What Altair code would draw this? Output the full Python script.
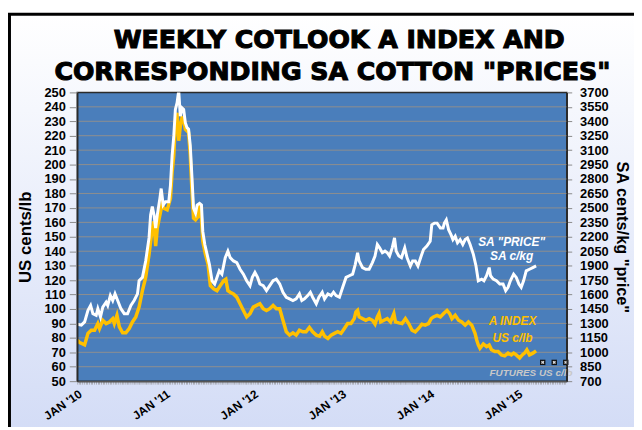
import json
import altair as alt
import pandas as pd

# ---------------- data ----------------
TITLE_LINES = ["WEEKLY COTLOOK A INDEX AND", 'CORRESPONDING SA COTTON "PRICES"']

# time axis: years since JAN 2010
a_index_t = [0.000, 0.028, 0.084, 0.122, 0.159, 0.197, 0.234, 0.253, 0.290, 0.328, 0.365, 0.403, 0.421, 0.451,
             0.478, 0.515, 0.552, 0.590, 0.627, 0.665, 0.702, 0.740, 0.777, 0.815, 0.852, 0.871, 0.890, 0.909,
             0.946, 0.964, 0.983, 1.021, 1.058, 1.077, 1.096, 1.114, 1.133, 1.152, 1.170, 1.189, 1.208, 1.227,
             1.264, 1.283, 1.301, 1.320, 1.343, 1.373, 1.388, 1.410, 1.425, 1.455, 1.485, 1.511, 1.549, 1.586,
             1.624, 1.661, 1.687, 1.710, 1.736, 1.773, 1.811, 1.848, 1.886, 1.923, 1.961, 1.998, 2.036, 2.073,
             2.111, 2.148, 2.185, 2.223, 2.260, 2.298, 2.335, 2.373, 2.410, 2.448, 2.485, 2.522, 2.560, 2.597,
             2.635, 2.672, 2.713, 2.751, 2.781, 2.807, 2.845, 2.882, 2.919, 2.957, 2.994, 3.032, 3.069, 3.107,
             3.144, 3.163, 3.182, 3.200, 3.238, 3.275, 3.313, 3.350, 3.380, 3.406, 3.425, 3.444, 3.481, 3.519,
             3.556, 3.594, 3.612, 3.650, 3.687, 3.725, 3.762, 3.800, 3.837, 3.874, 3.912, 3.949, 3.987, 4.017,
             4.043, 4.084, 4.122, 4.159, 4.197, 4.227, 4.253, 4.290, 4.328, 4.365, 4.403, 4.440, 4.478, 4.515,
             4.534, 4.552, 4.571, 4.609, 4.646, 4.676, 4.702, 4.740, 4.777, 4.815, 4.852, 4.890, 4.927, 4.953,
             4.983, 5.021, 5.051, 5.077, 5.103, 5.133, 5.171, 5.208]
a_index_usc_lb = [78.5, 76.7, 75.1, 83.1, 85.3, 85.3, 89.9, 86.5, 92.2, 89.9, 91.0, 93.3, 89.9, 95.6,
                  87.6, 83.5, 83.5, 86.5, 91.0, 94.5, 101.3, 112.7, 121.8, 137.8, 156.0, 160.6, 143.5, 156.0,
                  167.4, 173.1, 169.7, 168.6, 176.6, 194.8, 206.2, 229.0, 235.9, 216.5, 226.7, 232.4, 231.3, 224.5,
                  222.2, 206.2, 183.4, 162.9, 161.7, 164.0, 173.1, 162.9, 146.9, 137.8, 131.0, 116.2, 113.9, 112.7,
                  116.2, 119.6, 120.7, 112.7, 111.6, 110.4, 108.2, 103.6, 99.0, 94.5, 96.8, 101.3, 102.5, 103.6,
                  100.2, 99.0, 100.2, 102.5, 100.2, 100.2, 92.2, 84.2, 81.9, 83.5, 81.9, 85.3, 84.2, 84.2,
                  87.2, 84.2, 81.9, 81.2, 84.2, 81.2, 79.6, 81.9, 83.1, 84.2, 83.1, 86.5, 89.9, 89.9,
                  93.3, 97.9, 99.0, 94.5, 93.3, 92.2, 93.3, 92.2, 89.5, 94.5, 96.8, 91.0, 92.2, 93.3,
                  91.0, 96.8, 91.0, 90.4, 89.9, 93.3, 89.9, 85.3, 84.2, 86.5, 89.5, 88.8, 89.9, 93.3,
                  94.5, 95.6, 94.5, 96.8, 99.0, 96.8, 93.3, 95.6, 92.2, 91.0, 88.8, 91.0, 88.8, 83.1,
                  78.5, 75.1, 72.8, 75.8, 73.9, 75.1, 71.7, 70.5, 70.5, 68.2, 67.6, 69.4, 68.2, 69.4,
                  68.2, 66.0, 68.2, 69.4, 71.7, 68.2, 69.4, 71.0]

sa_price_t = [0.000, 0.047, 0.084, 0.122, 0.152, 0.178, 0.215, 0.234, 0.264, 0.290, 0.328, 0.346, 0.376, 0.403,
              0.429, 0.459, 0.496, 0.534, 0.571, 0.609, 0.646, 0.684, 0.702, 0.740, 0.777, 0.815, 0.833, 0.852,
              0.871, 0.890, 0.909, 0.938, 0.953, 0.976, 1.002, 1.039, 1.058, 1.077, 1.096, 1.114, 1.133, 1.152,
              1.170, 1.189, 1.208, 1.227, 1.246, 1.264, 1.283, 1.301, 1.320, 1.343, 1.361, 1.388, 1.410, 1.425,
              1.448, 1.474, 1.500, 1.530, 1.560, 1.586, 1.612, 1.642, 1.680, 1.710, 1.736, 1.773, 1.811, 1.848,
              1.886, 1.923, 1.961, 1.987, 2.017, 2.047, 2.073, 2.111, 2.148, 2.185, 2.223, 2.260, 2.298, 2.335,
              2.373, 2.410, 2.448, 2.485, 2.522, 2.549, 2.579, 2.616, 2.646, 2.672, 2.713, 2.743, 2.781, 2.807,
              2.845, 2.882, 2.909, 2.938, 2.976, 3.013, 3.051, 3.088, 3.126, 3.156, 3.182, 3.200, 3.238, 3.275,
              3.313, 3.350, 3.380, 3.406, 3.432, 3.463, 3.493, 3.519, 3.545, 3.575, 3.601, 3.620, 3.650, 3.680,
              3.717, 3.743, 3.781, 3.807, 3.837, 3.867, 3.904, 3.930, 3.968, 4.006, 4.024, 4.054, 4.084, 4.122,
              4.152, 4.167, 4.189, 4.215, 4.242, 4.264, 4.290, 4.316, 4.346, 4.376, 4.403, 4.429, 4.459, 4.496,
              4.526, 4.552, 4.590, 4.616, 4.646, 4.676, 4.691, 4.721, 4.758, 4.796, 4.833, 4.863, 4.890, 4.916,
              4.953, 4.983, 5.013, 5.039, 5.066, 5.096, 5.133, 5.171, 5.208]
sa_price_c_kg = [1292, 1282, 1316, 1436, 1487, 1401, 1384, 1453, 1367, 1470, 1521, 1487, 1589, 1538,
                 1607, 1538, 1453, 1401, 1401, 1487, 1538, 1607, 1743, 1778, 1949, 2188, 2428, 2513,
                 2428, 2291, 2428, 2599, 2701, 2530, 2564, 2564, 2735, 3043, 3248, 3522, 3591, 3720,
                 3454, 3539, 3522, 3385, 3334, 3317, 3146, 2838, 2496, 2445, 2530, 2547, 2530, 2256,
                 2120, 2017, 1914, 1743, 1709, 1778, 1846, 1812, 1983, 2051, 1983, 1949, 1932, 1863,
                 1812, 1743, 1692, 1778, 1829, 1778, 1709, 1692, 1641, 1692, 1743, 1760, 1709, 1624,
                 1572, 1555, 1538, 1555, 1607, 1538, 1555, 1589, 1624, 1572, 1504, 1572, 1624, 1555,
                 1607, 1589, 1624, 1589, 1572, 1675, 1778, 1795, 1812, 1914, 2034, 1949, 1880, 1863,
                 1863, 1932, 2000, 2120, 2085, 2034, 2051, 2034, 2000, 2085, 2188, 2051, 2000, 1983,
                 2085, 1983, 1897, 1949, 1949, 1897, 2000, 2068, 2103, 2154, 2325, 2342, 2342, 2291,
                 2291, 2342, 2376, 2274, 2222, 2171, 2205, 2137, 2171, 2120, 2171, 2188, 2120, 2017,
                 1897, 1743, 1760, 1743, 1795, 1880, 1795, 1760, 1743, 1709, 1709, 1641, 1675, 1743,
                 1812, 1778, 1709, 1675, 1743, 1846, 1863, 1880, 1897]

futures_t = [5.283, 5.414, 5.545]
futures_usc_lb = [63, 63, 63]

left_ticks = list(range(50, 251, 10))
right_ticks = list(range(700, 3701, 150))
grid_values = list(range(60, 241, 10))
year_labels = ["JAN '10", "JAN '11", "JAN '12", "JAN '13", "JAN '14", "JAN '15"]

notes_white = ['SA "PRICE"', "SA c/kg"]
notes_white_t = [4.93, 4.93]
notes_white_v = [143.8, 133.6]
notes_gold = ["A INDEX", "US c/lb"]
notes_gold_t = [4.94, 4.94]
notes_gold_v = [89.0, 77.4]
note_fut = ["FUTURES US c/lb"]
note_fut_t = [4.68]
note_fut_v = [53.4]

# ---------------- styling ----------------
W, H = 495, 292
XDOM = [0, 5.556]
LDOM = [50, 250]
RDOM = [700, 3700]
FONT = "Liberation Sans"
GOLD = "#FFC000"
PLOT_BLUE = "#4A7EBB"

week_ticks = [k / 52 for k in range(0, 290)]
x_axis = alt.Axis(values=week_ticks, labelExpr=f"datum.value % 1 == 0 ? {json.dumps(year_labels)}[datum.value] : ''",
                  labelAngle=-35, labelFont=FONT, labelFontSize=12, labelFontWeight="bold", labelColor="black",
                  labelOverlap=False, labelFlush=False, labelPadding=4, tickSize=3, tickWidth=0.6,
                  tickColor="#8a8a8a", domainColor="#555555", domainWidth=1.5, grid=False, title=None, zindex=1)
X = alt.X("t:Q", scale=alt.Scale(domain=XDOM, nice=False, zero=False), axis=x_axis)


def ly(field, axis=None):
    return alt.Y(f"{field}:Q", scale=alt.Scale(domain=LDOM, nice=False, zero=False), axis=axis)


one = pd.DataFrame({"k": [0]})

bg = alt.Chart(one).mark_rect(
    color=alt.Gradient(gradient="linear",
                       stops=[alt.GradientStop(color="#FFFFFF", offset=0),
                              alt.GradientStop(color="#D3DCF6", offset=1)],
                       x1=0, x2=0, y1=0, y2=1)
).encode(x=alt.value(-69), x2=alt.value(600), y=alt.value(-79), y2=alt.value(345))

frame = alt.Chart(one).mark_rect(fill=None, stroke="black", strokeWidth=3).encode(
    x=alt.value(-68.5), x2=alt.value(700), y=alt.value(-79), y2=alt.value(500))

plot_bg = alt.Chart(one).mark_rect(fill=PLOT_BLUE, stroke="#2b2b2b", strokeWidth=1.5).encode(
    x=alt.value(0), x2=alt.value(W), y=alt.value(0), y2=alt.value(H))

grid = alt.Chart(pd.DataFrame({"g": grid_values})).mark_rule(color="#8f8f8f", strokeWidth=1).encode(
    y=ly("g"))

gold_df = pd.DataFrame({"t": a_index_t, "v": a_index_usc_lb})
gold = alt.Chart(gold_df).mark_line(color=GOLD, strokeWidth=3.5, clip=True).encode(
    x=X,
    y=ly("v", alt.Axis(values=left_ticks, orient="left", title="US cents/lb", labelFont=FONT,
                       labelFontSize=13, labelFontWeight="bold", labelColor="black", tickColor="#8a8a8a",
                       tickSize=8, domainColor="#2b2b2b", domainWidth=1.5, grid=False, labelPadding=4,
                       titleFont=FONT, titleFontSize=17, titleFontWeight="bold", titleColor="black",
                       titlePadding=10, zindex=1)))

sa_df = pd.DataFrame({"t": sa_price_t, "p": sa_price_c_kg})
white = alt.Chart(sa_df).mark_line(color="white", strokeWidth=3, clip=True).encode(
    x=X,
    y=alt.Y("p:Q", scale=alt.Scale(domain=RDOM, nice=False, zero=False),
            axis=alt.Axis(values=right_ticks, format="d", orient="right", title='SA cents/kg "price"',
                          labelFont=FONT, labelFontSize=13, labelFontWeight="bold", labelColor="black",
                          tickColor="#8a8a8a", tickSize=5, domainColor="#2b2b2b", domainWidth=1.5, grid=False,
                          labelPadding=8, titleFont=FONT, titleFontSize=16.5, titleFontWeight="bold",
                          titleColor="black", titleAngle=90, titlePadding=5, zindex=1)))

fut_df = pd.DataFrame({"t": futures_t, "v": futures_usc_lb})
fut_sq = alt.Chart(fut_df).mark_point(shape="square", filled=True, color="#111111", size=30, opacity=1).encode(
    x=X, y=ly("v"))
fut_x = alt.Chart(fut_df).mark_point(shape="cross", filled=True, color="#dddddd", size=12, angle=45,
                                     opacity=1).encode(x=X, y=ly("v"))

nw = alt.Chart(pd.DataFrame({"t": notes_white_t, "v": notes_white_v, "s": notes_white})).mark_text(
    font=FONT, fontSize=12, fontWeight="bold", fontStyle="italic", color="white", align="center",
    baseline="alphabetic").encode(x=X, y=ly("v"), text="s:N")
ng = alt.Chart(pd.DataFrame({"t": notes_gold_t, "v": notes_gold_v, "s": notes_gold})).mark_text(
    font=FONT, fontSize=12, fontWeight="bold", fontStyle="italic", color=GOLD, align="center",
    baseline="alphabetic").encode(x=X, y=ly("v"), text="s:N")
nf = alt.Chart(pd.DataFrame({"t": note_fut_t, "v": note_fut_v, "s": note_fut})).mark_text(
    font=FONT, fontSize=10, fontWeight="bold", fontStyle="italic", color="#C8C8C8", align="left",
    baseline="alphabetic").encode(x=X, y=ly("v"), text="s:N")

title1 = alt.Chart(pd.DataFrame({"s": [TITLE_LINES[0]]})).mark_text(
    font="DejaVu Sans", fontSize=25.5, fontWeight="bold", color="black", stroke="black", strokeWidth=1.1,
    align="center", baseline="alphabetic").encode(x=alt.value(265), y=alt.value(-45), text="s:N")
title2 = alt.Chart(pd.DataFrame({"s": [TITLE_LINES[1]]})).mark_text(
    font="DejaVu Sans", fontSize=25.5, fontWeight="bold", color="black", stroke="black", strokeWidth=1.1,
    align="center", baseline="alphabetic").encode(x=alt.value(258), y=alt.value(-13), text="s:N")

chart = alt.layer(bg, frame, plot_bg, grid, gold, white, fut_sq, fut_x, nw, ng, nf, title1, title2).resolve_scale(
    y="independent"
).properties(
    width=W, height=H,
    padding={"left": 70, "top": 83, "right": 68, "bottom": 44},
    autosize=alt.AutoSizeParams(type="none"),
    background="white",
).configure_view(stroke=None)

chart.save("out.html", embed_options={"renderer": "svg", "actions": False})
